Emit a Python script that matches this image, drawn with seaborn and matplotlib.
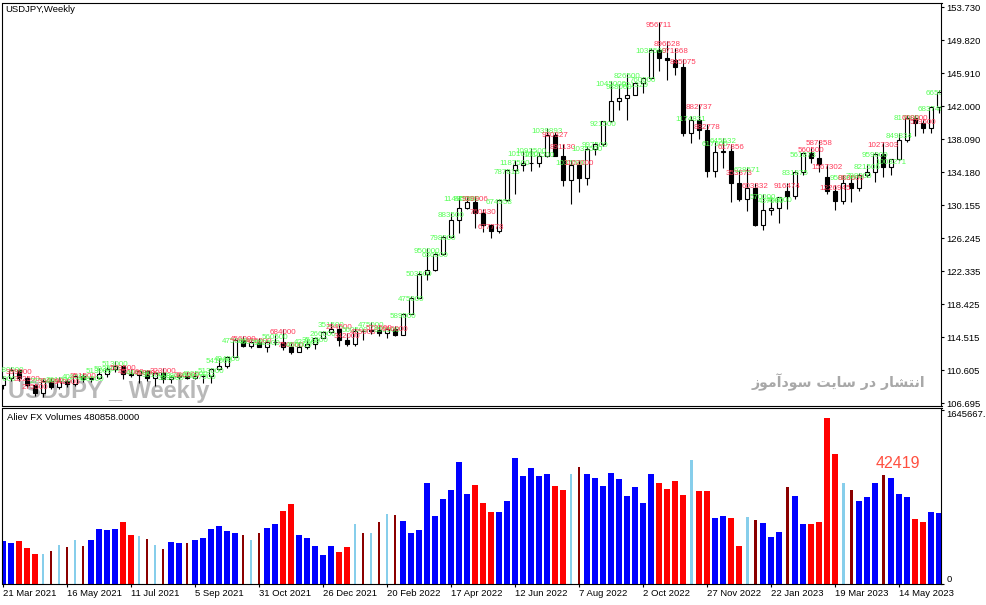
import matplotlib
matplotlib.use("Agg")
import matplotlib.pyplot as plt
from matplotlib.ticker import FixedLocator, FixedFormatter
import numpy as np
import pandas as pd
import seaborn as sns

# weekly USDJPY bars, first bar 21 Mar 2021
first_week = "2021-03-21"
opens = [108.88, 109.65, 110.60, 109.65, 108.80, 107.90, 109.30, 108.60, 109.35, 108.95,
         109.85, 109.50, 109.70, 110.20, 110.75, 111.05, 110.15, 110.05, 110.55, 109.70,
         110.25, 109.60, 109.80, 109.85, 109.70, 109.90, 109.95, 110.75, 111.05, 112.20,
         114.20, 113.50, 114.00, 113.40, 113.90, 114.00, 113.40, 112.80, 113.40, 113.70,
         114.40, 115.10, 115.55, 114.20, 113.70, 115.25, 115.20, 115.40, 115.00, 115.55,
         114.80, 117.30, 119.20, 122.05, 122.50, 124.35, 126.40, 128.50, 129.85, 130.55,
         129.25, 127.85, 127.10, 130.85, 134.40, 134.95, 135.20, 135.22, 136.10, 138.55,
         136.10, 133.25, 135.00, 133.45, 136.90, 137.45, 140.20, 142.55, 142.90, 143.35,
         144.75, 145.30, 148.70, 147.65, 147.45, 146.60, 138.80, 140.35, 139.20, 134.30,
         136.55, 136.70, 132.80, 131.00, 132.20, 127.85, 129.60, 129.85, 131.85, 131.35,
         134.10, 136.40, 135.85, 133.60, 131.85, 130.70, 132.80, 132.20, 133.80, 134.15,
         136.30, 134.80, 135.70, 137.95, 140.60, 139.95, 139.40, 141.85]
highs = [109.85, 110.97, 110.68, 109.95, 108.95, 109.70, 109.65, 109.80, 109.55, 110.20,
         110.30, 109.85, 110.80, 111.10, 111.65, 111.25, 110.70, 110.60, 110.60, 110.35,
         110.80, 110.00, 110.25, 110.40, 110.45, 110.15, 110.80, 112.05, 112.25, 114.45,
         114.70, 114.30, 114.45, 114.20, 114.95, 115.50, 113.90, 113.95, 114.25, 114.50,
         115.20, 116.35, 116.05, 115.05, 115.70, 115.55, 116.35, 116.00, 115.75, 115.80,
         117.40, 119.40, 122.40, 125.10, 124.70, 126.70, 129.40, 131.25, 131.35, 131.35,
         129.75, 127.95, 130.95, 134.55, 135.60, 136.70, 137.00, 136.55, 139.40, 138.90,
         137.45, 135.55, 135.60, 137.25, 137.70, 140.25, 144.99, 144.60, 145.90, 144.90,
         145.45, 148.85, 151.95, 149.70, 148.85, 147.60, 140.80, 142.25, 139.90, 137.85,
         138.20, 137.45, 134.40, 134.75, 132.85, 131.55, 131.10, 131.20, 132.90, 134.35,
         136.50, 137.10, 137.90, 135.10, 132.65, 133.75, 133.75, 134.05, 135.15, 136.55,
         137.75, 135.75, 138.75, 140.90, 140.95, 140.45, 141.95, 143.85]
lows = [108.40, 109.35, 109.35, 108.60, 107.48, 107.45, 108.35, 108.35, 108.55, 108.75,
        109.20, 109.20, 109.55, 109.75, 110.40, 109.55, 109.75, 109.05, 109.35, 108.72,
        109.10, 109.10, 109.60, 109.60, 109.60, 109.10, 109.10, 110.60, 110.80, 112.20,
        113.40, 113.25, 113.30, 112.72, 113.60, 113.05, 112.55, 112.80, 113.15, 113.15,
        114.40, 115.00, 113.50, 113.45, 113.45, 114.15, 114.95, 114.70, 114.40, 114.65,
        114.80, 117.30, 119.20, 121.30, 122.40, 124.25, 126.30, 126.95, 129.70, 127.50,
        127.05, 126.35, 126.85, 130.75, 131.50, 134.25, 134.25, 134.70, 135.95, 136.00,
        132.50, 130.40, 131.75, 132.55, 136.20, 137.30, 140.10, 141.50, 140.35, 143.25,
        143.55, 145.25, 146.20, 145.10, 145.70, 138.45, 137.65, 138.05, 133.60, 133.60,
        134.60, 130.55, 130.75, 129.50, 127.75, 127.20, 129.00, 128.10, 129.80, 130.90,
        133.80, 135.25, 134.10, 131.55, 129.65, 130.40, 130.60, 131.85, 133.55, 133.00,
        133.50, 133.75, 135.60, 137.70, 138.45, 138.75, 138.80, 141.15]
closes = [109.65, 110.60, 109.65, 108.80, 107.90, 109.30, 108.60, 109.35, 108.95, 109.85,
          109.50, 109.70, 110.20, 110.75, 111.05, 110.15, 110.05, 110.55, 109.70, 110.25,
          109.60, 109.80, 109.85, 109.70, 109.90, 109.95, 110.75, 111.05, 112.20, 114.20,
          113.50, 114.00, 113.40, 113.90, 114.00, 113.40, 112.80, 113.40, 113.70, 114.40,
          115.10, 115.55, 114.20, 113.70, 115.25, 115.20, 115.40, 115.00, 115.55, 114.80,
          117.30, 119.20, 122.05, 122.50, 124.35, 126.40, 128.50, 129.85, 130.55, 129.25,
          127.85, 127.10, 130.85, 134.40, 134.95, 135.20, 135.22, 136.10, 138.55, 136.10,
          133.25, 135.00, 133.45, 136.90, 137.45, 140.20, 142.55, 142.90, 143.35, 144.75,
          145.30, 148.70, 147.65, 147.45, 146.60, 138.80, 140.35, 139.20, 134.30, 136.55,
          136.70, 132.80, 131.00, 132.20, 127.85, 129.60, 129.85, 131.15, 131.35, 134.10,
          136.40, 135.85, 135.05, 131.85, 130.70, 132.80, 132.20, 133.80, 134.15, 136.30,
          134.80, 135.70, 137.95, 140.60, 139.95, 139.40, 141.85, 143.70]
volumes = [399000, 380000, 399000, 332500, 275500, 275500, 304000, 361000, 342000, 408500,
           351500, 408500, 513000, 503500, 513000, 579500, 456000, 446500, 418000, 361000,
           323000, 389500, 380000, 380000, 408500, 427500, 513000, 541500, 494000, 475000,
           456000, 408500, 475000, 522500, 560500, 684000, 750500, 456000, 427500, 351500,
           266000, 351500, 294500, 342000, 560500, 475000, 475000, 579500, 655500, 646000,
           589000, 475000, 503500, 950000, 636500, 798000, 883500, 1149500, 845500, 939906,
           760430, 677778, 674958, 787818, 1187500, 1016500, 1092500, 1016500, 1039893, 930327,
           891130, 1035500, 1102000, 1035500, 997500, 921500, 1045000, 988000, 826500, 921329,
           760000, 1035500, 956711, 896628, 971368, 845075, 1174831, 882737, 882778, 617500,
           645632, 617856, 353373, 628571, 603332, 570000, 437000, 484500, 916474, 831875,
           561873, 560500, 587358, 1567302, 1226945, 950000, 883500, 788000, 821506, 959000,
           1027303, 1003271, 849834, 817000, 608000, 579500, 683740, 665000]
# B blue, R red, LB light blue (thin), DR dark red (thin)
vol_kind = ("B B R R R LB DR LB DR LB DR B B B B R R LB DR LB DR B B DR B B B B B B "
            "DR LB DR B B R R B B B B B R R LB DR LB DR LB DR B B B B B B B B B R "
            "R R B B B B B B B R R LB DR B B B B B B B B B R R R R LB R R B B R "
            "R LB DR B B B DR B B R R R R LB DR B B B DR B B B R R B B").split()
price_labels = ["106.695", "110.605", "114.515", "118.425", "122.335", "126.245", "130.155",
                "134.180", "138.090", "142.000", "145.910", "149.820", "153.730"]
vol_top_label = "1645667.1"
vol_top_value = 1645667.1

kind_colors = {"B": "#0000FF", "R": "#FF0000", "LB": "#87CEEB", "DR": "#8B0000"}
up_txt, dn_txt = "#55FF55", "#FF3A5A"

sns.set_theme(style="white")
plt.rcParams["font.family"] = ["Liberation Sans", "DejaVu Sans"]

W, H = 987, 605
fig = plt.figure(figsize=(W / 100, H / 100), dpi=100)


def box(x0, y0, x1, y1):
    return [x0 / W, 1 - y1 / H, (x1 - x0) / W, (y1 - y0) / H]


ax = fig.add_axes(box(2.5, 2.5, 941.5, 405.5))
axv = fig.add_axes(box(2.5, 408, 941.5, 583.5), sharex=ax)

n = len(closes)
df = pd.DataFrame({"i": np.arange(n), "open": opens, "high": highs, "low": lows,
                   "close": closes, "volume": volumes, "kind": vol_kind})
df["date"] = pd.date_range(first_week, periods=n, freq="7D")
df["up"] = df["close"] >= df["open"]

# candles
ax.vlines(df["i"], df["low"], df["high"], color="black", lw=0.8, zorder=2)
body = (df["close"] - df["open"]).abs().clip(lower=0.06)
ax.bar(df["i"], body, bottom=df[["open", "close"]].min(axis=1), width=0.45,
       color=np.where(df["up"], "white", "black"), edgecolor="black", lw=0.8, zorder=3)
for _, r in df.iterrows():
    ax.text(r["i"], r["high"], f"{int(r['volume'])}", ha="center", va="top",
            fontsize=5.8, color=up_txt if r["up"] else dn_txt, zorder=4, clip_on=True)

ax.text(0.65, 107.33, "USDJPY _ Weekly", fontweight="bold", fontsize=17,
        color="#B8B8B8", ha="left", va="baseline", zorder=0.5, clip_on=True)
# "انتشار در سایت سودآموز" in presentation forms, visual order
fa_text = ("\uFEAF\uFEEE\uFEE3\uFE81\uFEA9\uFEEE\uFEB3 \uFE96\uFEF3\uFE8E\uFEB3 "
           "\uFEAD\uFEA9 \uFEAD\uFE8E\uFEB8\uFE98\uFEE7\uFE8D")
fig.text(925 / W, 1 - 382 / H, fa_text, family=["DejaVu Sans"], fontweight="bold",
         fontsize=10.2, color="#A8A8A8", ha="right", va="center")

# volumes
full = df[df["kind"].isin(["B", "R"])]
thin = df[df["kind"].isin(["LB", "DR"])]
sns.barplot(data=full, x="i", y="volume", hue="kind", palette=kind_colors, native_scale=True,
            width=0.84, dodge=False, errorbar=None, saturation=1, linewidth=0, legend=False, ax=axv)
sns.barplot(data=thin, x="i", y="volume", hue="kind", palette=kind_colors, native_scale=True,
            width=0.36, dodge=False, errorbar=None, saturation=1, linewidth=0, legend=False, ax=axv)

ax.set_xlim(-0.06, 117.3)
ax.set_ylim(106.398, 154.30)
axv.set_ylim(0, 1667000)

for a in (ax, axv):
    for s in a.spines.values():
        s.set_visible(True)
        s.set_color("black")
        s.set_linewidth(0.8)
    a.yaxis.tick_right()
    a.set_xlabel("")
    a.set_ylabel("")
    a.tick_params(axis="y", which="both", right=True, left=False, length=2.2, width=0.8,
                  pad=1.6, labelsize=6.8, colors="black")

ax.yaxis.set_major_locator(FixedLocator(np.linspace(106.695, 153.73, len(price_labels))))
ax.yaxis.set_major_formatter(FixedFormatter(price_labels))
ax.tick_params(axis="x", bottom=False, labelbottom=False)

axv.yaxis.set_major_locator(FixedLocator([0, vol_top_value]))
axv.yaxis.set_major_formatter(FixedFormatter(["0", vol_top_label]))
ylabs = axv.get_yticklabels()
ylabs[0].set_va("bottom")
ylabs[1].set_va("top")

tick_idx = df["i"][::8]
axv.xaxis.set_major_locator(FixedLocator(tick_idx))
axv.xaxis.set_major_formatter(FixedFormatter(
    [f"{d.day} {d:%b %Y}" for d in df["date"][::8]]))
axv.tick_params(axis="x", bottom=True, length=2.2, width=0.8, pad=1.5,
                labelsize=6.8, colors="black")
for lab in axv.get_xticklabels():
    lab.set_ha("left")

fig.text(5 / W, 1 - 10 / H, "USDJPY,Weekly", fontsize=6.8, color="black", va="center")
fig.text(7 / W, 1 - 418 / H, "Aliev FX Volumes 480858.0000", fontsize=6.8,
         color="black", va="center")
fig.text(876 / W, 1 - 463 / H, "42419", fontsize=11.5, color="#FF5040", va="center")

fig.savefig("out.png", dpi=100)
plt.close(fig)
